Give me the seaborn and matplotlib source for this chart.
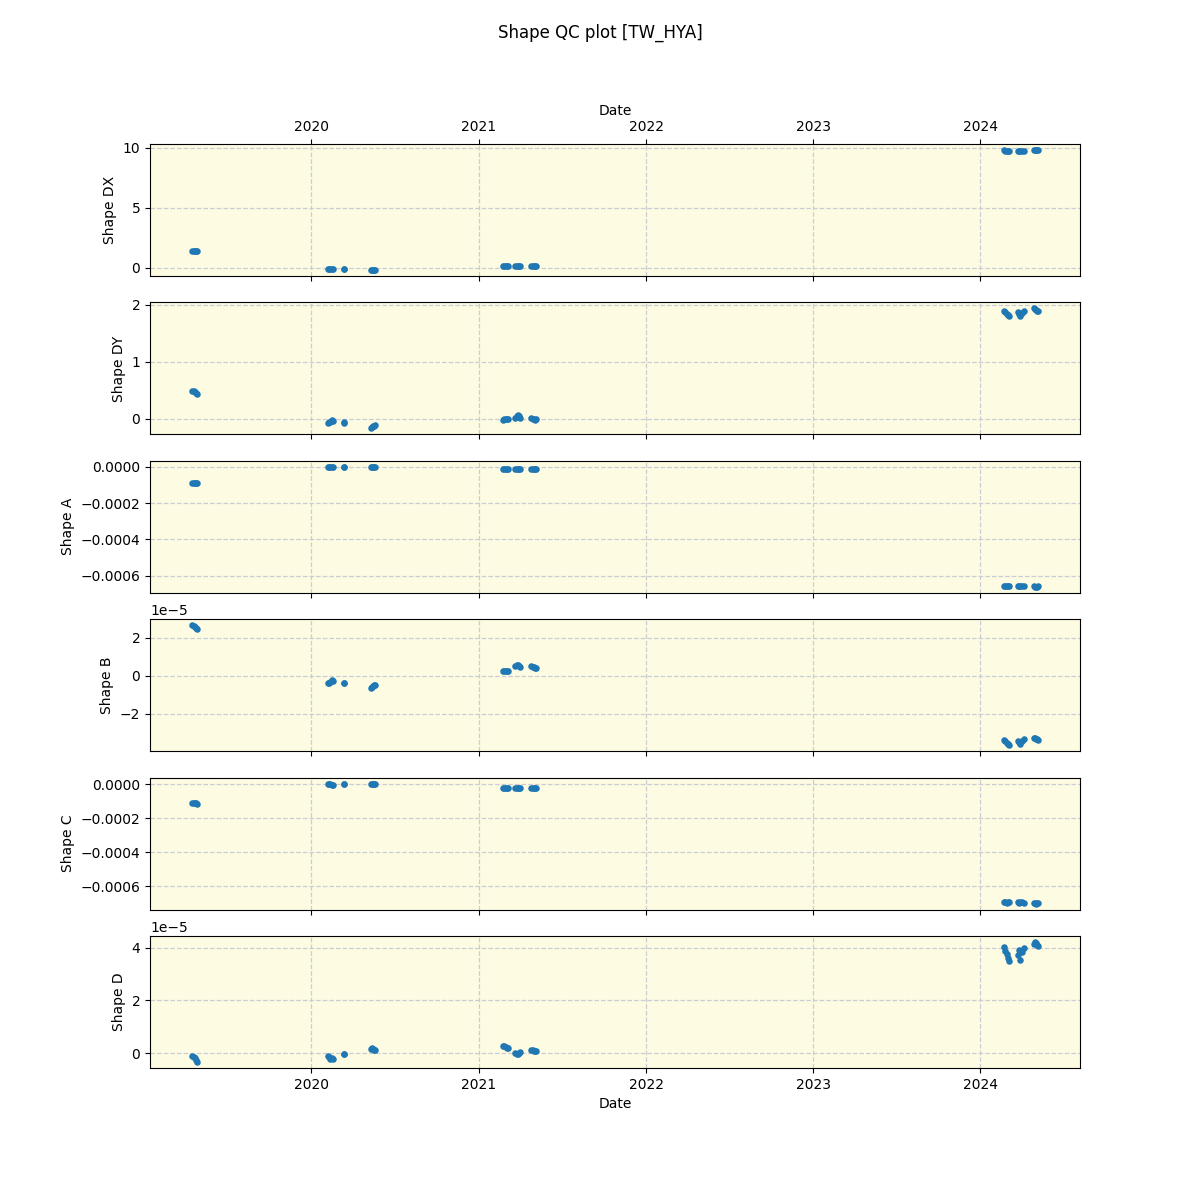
"""
Shape QC plot for TW_HYA
"""

import matplotlib

matplotlib.use("Agg")
import matplotlib.pyplot as plt
import pandas as pd
import seaborn as sns

TARGET = "TW_HYA"

# observation dates (one entry per exposure)
dates = [
    "2019-04-16", "2019-04-19", "2019-04-22", "2019-04-25", "2019-04-27",
    "2020-02-07", "2020-02-09", "2020-02-11", "2020-02-14", "2020-02-17",
    "2020-03-12", "2020-03-13",
    "2020-05-10", "2020-05-12", "2020-05-14", "2020-05-16", "2020-05-18",
    "2021-02-22", "2021-02-25", "2021-02-28", "2021-03-03", "2021-03-06",
    "2021-03-21", "2021-03-24", "2021-03-27", "2021-03-30", "2021-04-01",
    "2021-04-25", "2021-04-28", "2021-05-01", "2021-05-04", "2021-05-06",
    "2024-02-21", "2024-02-24", "2024-02-27", "2024-03-01", "2024-03-03",
    "2024-03-22", "2024-03-25", "2024-03-28", "2024-04-01", "2024-04-04",
    "2024-04-27", "2024-04-29", "2024-05-01", "2024-05-03", "2024-05-05",
]

shape_dx = [
    1.42, 1.42, 1.41, 1.42, 1.41,
    -0.08, -0.10, -0.09, -0.12, -0.11,
    -0.08, -0.09,
    -0.15, -0.18, -0.17, -0.16, -0.14,
    0.15, 0.16, 0.14, 0.15, 0.15,
    0.16, 0.17, 0.15, 0.16, 0.15,
    0.16, 0.15, 0.17, 0.15, 0.14,
    9.78, 9.76, 9.73, 9.70, 9.72,
    9.70, 9.72, 9.74, 9.71, 9.73,
    9.78, 9.80, 9.79, 9.81, 9.80,
]

shape_dy = [
    0.49, 0.48, 0.47, 0.46, 0.44,
    -0.07, -0.06, -0.05, -0.03, -0.04,
    -0.07, -0.06,
    -0.17, -0.15, -0.13, -0.12, -0.11,
    -0.02, -0.01, 0.00, -0.01, 0.00,
    0.02, 0.05, 0.06, 0.04, 0.02,
    0.01, 0.00, -0.01, -0.02, -0.01,
    1.90, 1.88, 1.85, 1.82, 1.80,
    1.87, 1.85, 1.81, 1.86, 1.90,
    1.94, 1.93, 1.92, 1.90, 1.90,
]

shape_a = [
    -0.90e-4, -0.90e-4, -0.89e-4, -0.90e-4, -0.91e-4,
    0.00e-4, -0.01e-4, 0.00e-4, -0.02e-4, 0.01e-4,
    -0.01e-4, 0.00e-4,
    0.00e-4, 0.01e-4, -0.01e-4, 0.00e-4, 0.01e-4,
    -0.12e-4, -0.11e-4, -0.12e-4, -0.13e-4, -0.12e-4,
    -0.11e-4, -0.12e-4, -0.12e-4, -0.11e-4, -0.13e-4,
    -0.12e-4, -0.13e-4, -0.11e-4, -0.12e-4, -0.12e-4,
    -6.55e-4, -6.56e-4, -6.58e-4, -6.57e-4, -6.56e-4,
    -6.57e-4, -6.56e-4, -6.55e-4, -6.57e-4, -6.58e-4,
    -6.60e-4, -6.61e-4, -6.62e-4, -6.61e-4, -6.60e-4,
]

shape_b = [
    2.66e-5, 2.62e-5, 2.58e-5, 2.52e-5, 2.48e-5,
    -0.38e-5, -0.36e-5, -0.32e-5, -0.22e-5, -0.27e-5,
    -0.37e-5, -0.38e-5,
    -0.66e-5, -0.60e-5, -0.55e-5, -0.50e-5, -0.47e-5,
    0.24e-5, 0.26e-5, 0.27e-5, 0.25e-5, 0.28e-5,
    0.50e-5, 0.57e-5, 0.58e-5, 0.52e-5, 0.48e-5,
    0.50e-5, 0.48e-5, 0.46e-5, 0.42e-5, 0.40e-5,
    -3.36e-5, -3.42e-5, -3.50e-5, -3.58e-5, -3.64e-5,
    -3.44e-5, -3.48e-5, -3.56e-5, -3.42e-5, -3.34e-5,
    -3.28e-5, -3.25e-5, -3.30e-5, -3.33e-5, -3.35e-5,
]

shape_c = [
    -1.10e-4, -1.09e-4, -1.10e-4, -1.12e-4, -1.13e-4,
    0.03e-4, 0.02e-4, 0.00e-4, -0.02e-4, -0.04e-4,
    0.03e-4, 0.02e-4,
    0.04e-4, 0.05e-4, 0.04e-4, 0.03e-4, 0.04e-4,
    -0.20e-4, -0.19e-4, -0.20e-4, -0.21e-4, -0.20e-4,
    -0.19e-4, -0.20e-4, -0.20e-4, -0.19e-4, -0.21e-4,
    -0.20e-4, -0.21e-4, -0.19e-4, -0.20e-4, -0.21e-4,
    -6.95e-4, -6.96e-4, -6.97e-4, -6.96e-4, -6.95e-4,
    -6.96e-4, -6.97e-4, -6.95e-4, -6.96e-4, -6.98e-4,
    -7.00e-4, -7.02e-4, -7.03e-4, -7.02e-4, -7.01e-4,
]

shape_d = [
    -0.12e-5, -0.16e-5, -0.20e-5, -0.27e-5, -0.34e-5,
    -0.12e-5, -0.16e-5, -0.22e-5, -0.18e-5, -0.24e-5,
    -0.03e-5, -0.05e-5,
    0.15e-5, 0.18e-5, 0.14e-5, 0.12e-5, 0.10e-5,
    0.28e-5, 0.25e-5, 0.22e-5, 0.20e-5, 0.18e-5,
    0.02e-5, -0.02e-5, -0.03e-5, 0.00e-5, 0.04e-5,
    0.12e-5, 0.10e-5, 0.08e-5, 0.09e-5, 0.07e-5,
    4.02e-5, 3.88e-5, 3.75e-5, 3.60e-5, 3.50e-5,
    3.72e-5, 3.92e-5, 3.52e-5, 3.85e-5, 4.00e-5,
    4.15e-5, 4.22e-5, 4.18e-5, 4.10e-5, 4.05e-5,
]

columns = ["Shape DX", "Shape DY", "Shape A", "Shape B", "Shape C", "Shape D"]

df = pd.DataFrame({
    "Date": pd.to_datetime(dates),
    "Shape DX": shape_dx,
    "Shape DY": shape_dy,
    "Shape A": shape_a,
    "Shape B": shape_b,
    "Shape C": shape_c,
    "Shape D": shape_d,
})

fig, axes = plt.subplots(len(columns), 1, figsize=(12, 12), sharex=True)

for ax, col in zip(axes, columns):
    sns.scatterplot(data=df, x="Date", y=col, ax=ax, color="#1f77b4", s=22, linewidth=0)
    ax.set_facecolor("#fdfbe2")
    ax.set_axisbelow(True)
    ax.grid(True, linestyle="--", color="#cbcdd5", linewidth=0.9)
    ax.set_ylabel(col)
    ax.set_xlabel("")

# date axis on top of first panel too
axes[0].tick_params(axis="x", top=True, labeltop=True)
axes[0].xaxis.set_label_position("top")
axes[0].set_xlabel("Date")
axes[0].xaxis.label.set_visible(True)
axes[-1].set_xlabel("Date")

fig.suptitle(f"Shape QC plot [{TARGET}]")

plt.savefig("out.png", dpi=100)
plt.close()
